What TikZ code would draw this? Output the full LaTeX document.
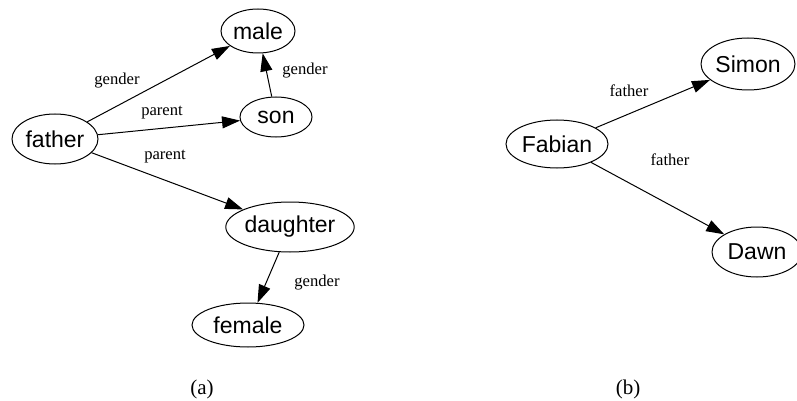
\documentclass[tikz,border=0pt]{standalone}
\usepackage{fontspec}
\setmainfont{Liberation Serif}
\newfontfamily\nodefont{Liberation Sans}
\usetikzlibrary{arrows.meta,shapes.geometric}

\begin{document}
\begin{tikzpicture}[
    x=0.5pt, y=-0.5pt,
    entity/.style={draw, ellipse, inner sep=0pt, line width=0.5pt,
                   font=\nodefont\fontsize{11.5}{13}\selectfont},
    arrow/.style={-{Triangle[length=9pt, width=6pt]}, line width=0.5pt},
    rel/.style={font=\fontsize{8.3}{10}\selectfont},
    caption/.style={font=\fontsize{10.5}{12}\selectfont}
  ]
  \useasboundingbox (0,0) rectangle (797,401);

  % (a) family relations
  \node[entity, minimum width=43pt, minimum height=25pt] (father)   at (55,139)  {father};
  \node[entity, minimum width=37pt, minimum height=22pt] (male)     at (258,31)  {male};
  \node[entity, minimum width=36pt, minimum height=20pt] (son)      at (276,117) {son};
  \node[entity, minimum width=57pt, minimum height=25pt] (daughter) at (290,227) {daughter};
  \node[entity, minimum width=56pt, minimum height=22pt] (female)   at (248,325) {female};

  \draw[arrow] (father) -- (male);
  \draw[arrow] (father) -- (son);
  \draw[arrow] (father) -- (daughter);
  \draw[arrow] (son) -- (male);
  \draw[arrow] (daughter) -- (female);

  \node[rel] (lgender1) at (117,81)  {gender};
  \node[rel] (lparent1) at (162,113) {parent};
  \node[rel] (lparent2) at (165,157) {parent};
  \node[rel] (lgender2) at (305,71)  {gender};
  \node[rel] (lgender3) at (317,283) {gender};

  % (b) instances
  \node[entity, minimum width=51pt, minimum height=24pt] (fabian) at (557,144) {Fabian};
  \node[entity, minimum width=47pt, minimum height=26pt] (simon)  at (748,64)  {Simon};
  \node[entity, minimum width=45pt, minimum height=25pt] (dawn)   at (757,252) {Dawn};

  \draw[arrow] (fabian) -- (simon);
  \draw[arrow] (fabian) -- (dawn);

  \node[rel] (lfather1) at (629,91)  {father};
  \node[rel] (lfather2) at (670,160) {father};

  % captions
  \node[caption] (capa) at (202,389) {(a)};
  \node[caption] (capb) at (628,389) {(b)};
\end{tikzpicture}
\end{document}
